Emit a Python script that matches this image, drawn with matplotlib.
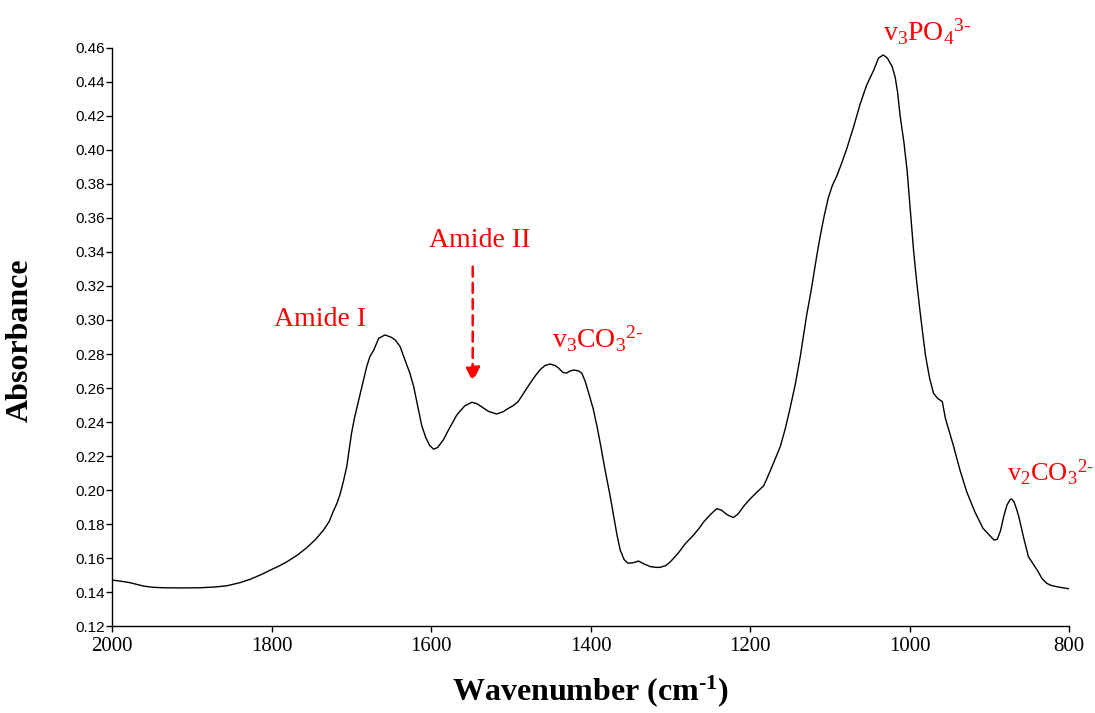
import matplotlib
matplotlib.use('Agg')
import matplotlib.pyplot as plt

# FTIR spectrum
wavenumber = [2000, 1990, 1978, 1961, 1950, 1936, 1910, 1890, 1870, 1856,
              1840, 1827, 1813, 1800, 1790, 1781, 1768, 1756, 1745, 1735,
              1728, 1723, 1718, 1714, 1710, 1706, 1703, 1700, 1696, 1691,
              1688, 1685, 1681, 1677, 1672, 1666, 1658, 1650, 1645, 1639,
              1633, 1627, 1622, 1617, 1612, 1607, 1602, 1597, 1592, 1585,
              1577, 1568, 1558, 1549, 1543, 1537, 1528, 1518, 1510, 1503,
              1497, 1491, 1484, 1476, 1469, 1463, 1457, 1451, 1445, 1440,
              1435, 1430, 1426, 1421, 1415, 1411, 1407, 1403, 1397, 1392,
              1387, 1382, 1376, 1371, 1367, 1363, 1358, 1353, 1347, 1340,
              1333, 1325, 1318, 1313, 1306, 1300, 1290, 1281, 1271, 1264,
              1258, 1250, 1242, 1236, 1229, 1221, 1215, 1208, 1200, 1192,
              1183, 1175, 1168, 1162, 1156, 1150, 1143, 1137, 1133, 1129,
              1124, 1120, 1116, 1112, 1107, 1102, 1097, 1091, 1085, 1079,
              1070, 1062, 1054, 1045, 1039, 1033, 1028, 1022, 1018, 1015,
              1012, 1007, 1003, 999, 995, 991, 987, 983, 980, 975,
              970, 965, 959, 955, 950, 945, 937, 928, 918, 908,
              900, 894, 890, 886, 882, 878, 874, 872, 869, 866,
              863, 857, 851, 845, 840, 834, 828, 822, 815, 808,
              800]
absorbance = [0.1470, 0.1464, 0.1455, 0.1435, 0.1428, 0.1425, 0.1424, 0.1425, 0.1430, 0.1437,
              0.1455, 0.1475, 0.1503, 0.1533, 0.1555, 0.1578, 0.1617, 0.1661, 0.1710, 0.1765,
              0.1815, 0.1873, 0.1925, 0.1981, 0.2055, 0.2137, 0.2235, 0.2334, 0.2430, 0.2529,
              0.2590, 0.2647, 0.2725, 0.2784, 0.2824, 0.2892, 0.2912, 0.2898, 0.2882, 0.2843,
              0.2765, 0.2690, 0.2608, 0.2495, 0.2380, 0.2310, 0.2262, 0.2240, 0.2250, 0.2294,
              0.2365, 0.2441, 0.2495, 0.2516, 0.2508, 0.2490, 0.2462, 0.2447, 0.2460, 0.2481,
              0.2497, 0.2520, 0.2570, 0.2628, 0.2675, 0.2710, 0.2733, 0.2741, 0.2733, 0.2716,
              0.2692, 0.2688, 0.2700, 0.2706, 0.2700, 0.2686, 0.2640, 0.2578, 0.2480, 0.2373,
              0.2250, 0.2118, 0.1975, 0.1843, 0.1735, 0.1647, 0.1590, 0.1569, 0.1572, 0.1582,
              0.1565, 0.1549, 0.1545, 0.1545, 0.1555, 0.1578, 0.1630, 0.1686, 0.1735, 0.1775,
              0.1814, 0.1855, 0.1890, 0.1882, 0.1855, 0.1838, 0.1860, 0.1905, 0.1948, 0.1985,
              0.2025, 0.2110, 0.2190, 0.2258, 0.2360, 0.2479, 0.2630, 0.2789, 0.2910, 0.3032,
              0.3160, 0.3275, 0.3390, 0.3496, 0.3615, 0.3718, 0.3790, 0.3851, 0.3925, 0.4005,
              0.4140, 0.4271, 0.4380, 0.4470, 0.4541, 0.4559, 0.4541, 0.4492, 0.4426, 0.4337,
              0.4205, 0.4040, 0.3873, 0.3640, 0.3408, 0.3220, 0.3054, 0.2900, 0.2790, 0.2660,
              0.2569, 0.2540, 0.2520, 0.2420, 0.2340, 0.2260, 0.2120, 0.1985, 0.1870, 0.1775,
              0.1735, 0.1705, 0.1710, 0.1760, 0.1843, 0.1910, 0.1943, 0.1947, 0.1930, 0.1890,
              0.1843, 0.1720, 0.1608, 0.1565, 0.1529, 0.1480, 0.1451, 0.1438, 0.1431, 0.1425,
              0.1419]

x_ticks = [2000, 1800, 1600, 1400, 1200, 1000, 800]
y_ticks = [0.12, 0.14, 0.16, 0.18, 0.20, 0.22, 0.24, 0.26, 0.28, 0.30,
           0.32, 0.34, 0.36, 0.38, 0.40, 0.42, 0.44, 0.46]

plt.rcParams['mathtext.fontset'] = 'custom'
plt.rcParams['mathtext.rm'] = 'Liberation Serif'
plt.rcParams['mathtext.it'] = 'Liberation Serif:italic'
plt.rcParams['mathtext.bf'] = 'Liberation Serif:bold'

serif = 'Liberation Serif'
sans = 'Liberation Sans'
hy = '\u2010'  # plain hyphen for the charge signs

fig = plt.figure(figsize=(10.95, 7.13), dpi=100)
ax = fig.add_axes([0.1026, 0.122, 0.8737, 0.8107])

ax.plot(wavenumber, absorbance, color='black', lw=1.0)

ax.set_xlim(2000, 800)
ax.set_ylim(0.12, 0.46)
ax.set_xticks(x_ticks)
ax.set_yticks(y_ticks)
ax.set_xticklabels([str(v) for v in x_ticks], fontfamily=serif, fontsize=15)
ax.set_yticklabels(['%.2f' % v for v in y_ticks], fontfamily=sans, fontsize=11)
ax.tick_params(axis='both', direction='out', length=4, width=1.0)
ax.tick_params(axis='x', pad=4)
ax.tick_params(axis='y', pad=1)

for side in ['top', 'right']:
    ax.spines[side].set_visible(False)
for side in ['left', 'bottom']:
    ax.spines[side].set_linewidth(1.0)

ax.set_xlabel(r'Wavenumber (cm$^{\mathbf{' + hy + '1}}$)', fontfamily=serif, fontsize=23,
              fontweight='bold', labelpad=12)
ax.set_ylabel('Absorbance', fontfamily=serif, fontsize=23, fontweight='bold')
ax.yaxis.set_label_coords(-0.081, 0.495)

# peak labels
red = '#ff0000'
ax.text(1739, 0.300, 'Amide I', color=red, fontfamily=serif, fontsize=20,
        ha='center', va='center')
ax.text(1539, 0.347, 'Amide II', color=red, fontfamily=serif, fontsize=20,
        ha='center', va='center')
ax.text(1449, 0.2835, r'v$_3$CO$_3$$^{2' + hy + '}$', color=red, fontfamily=serif,
        fontsize=20, ha='left', va='baseline')
ax.text(1033, 0.4643, r'v$_3$PO$_4$$^{3' + hy + '}$', color=red, fontfamily=serif,
        fontsize=20, ha='left', va='baseline', clip_on=False)
ax.text(878, 0.2049, r'v$_2$CO$_3$$^{2' + hy + '}$', color=red, fontfamily=serif,
        fontsize=19, ha='left', va='baseline', clip_on=False)

# dashed arrow pointing at amide II
ax.annotate('', xy=(1548, 0.2637), xytext=(1548, 0.3314),
            arrowprops=dict(arrowstyle='-|>', color=red, lw=1.8, linestyle=(0, (4, 2.5)),
                            mutation_scale=22, shrinkA=0, shrinkB=0))

fig.savefig('out.png', dpi=100)
